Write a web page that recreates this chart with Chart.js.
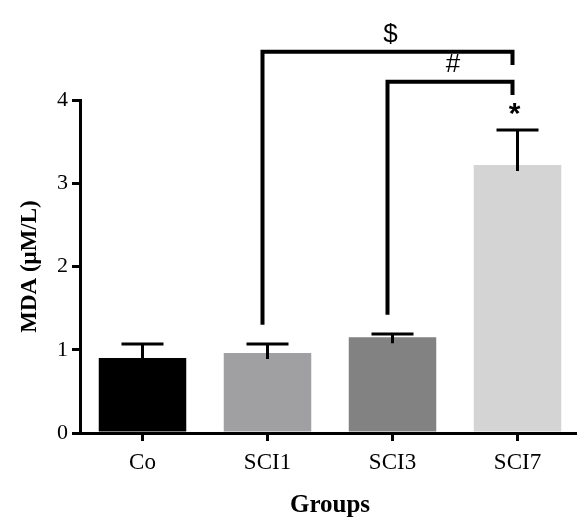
<!DOCTYPE html>
<html>
<head>
<meta charset="utf-8">
<script src="https://cdn.jsdelivr.net/npm/chart.js@4/dist/chart.umd.min.js"></script>
<style>
  html, body { margin: 0; padding: 0; background: #fff; overflow: hidden; }
  #wrap { width: 580px; height: 518px; }
</style>
</head>
<body>
<div id="wrap"><canvas id="barChart"></canvas></div>
<script>
const groups = ['Co', 'SCI1', 'SCI3', 'SCI7'];
const mdaMean = [0.90, 0.96, 1.15, 3.22];
const mdaError = [0.17, 0.11, 0.04, 0.42];
const barColors = ['#000000', '#a0a0a3', '#828282', '#d4d4d4'];
const yTicks = [0, 1, 2, 3, 4];

// significance brackets: from group -> to group, level, left leg bottom, right leg bottom
const brackets = [
  { mark: '$', from: 1, to: 3, level: 4.58, leftEnd: 1.30, rightEnd: 4.42 },
  { mark: '#', from: 2, to: 3, level: 4.22, leftEnd: 1.42, rightEnd: 4.06 }
];
const starMark = '*';

const serif = '"Liberation Serif", "Times New Roman", serif';
const ctx = document.getElementById('barChart').getContext('2d');

const extras = {
  id: 'extras',
  afterDatasetsDraw(chart) {
    const c = chart.ctx;
    const x = chart.scales.x;
    const y = chart.scales.y;
    c.save();
    c.strokeStyle = '#000';
    c.fillStyle = '#000';
    // error bars
    c.lineWidth = 3;
    mdaMean.forEach((v, i) => {
      const cx = x.getPixelForValue(i);
      const top = y.getPixelForValue(v + mdaError[i]);
      c.beginPath();
      c.moveTo(cx, y.getPixelForValue(v) + 6);
      c.lineTo(cx, top);
      c.moveTo(cx - 21, top);
      c.lineTo(cx + 21, top);
      c.stroke();
    });
    // brackets
    c.lineWidth = 4;
    c.font = '26px "Liberation Sans", Arial, sans-serif';
    c.textAlign = 'center';
    c.textBaseline = 'bottom';
    brackets.forEach(b => {
      const x1 = x.getPixelForValue(b.from) - 5;
      const x2 = x.getPixelForValue(b.to) - 5;
      const yl = y.getPixelForValue(b.level);
      c.beginPath();
      c.moveTo(x1, y.getPixelForValue(b.leftEnd));
      c.lineTo(x1, yl);
      c.lineTo(x2, yl);
      c.lineTo(x2, y.getPixelForValue(b.rightEnd));
      c.stroke();
      c.fillText(b.mark, (x1 + x2) / 2 + 3, yl - 4);
    });
    c.font = 'bold 30px "Liberation Sans", Arial, sans-serif';
    c.textBaseline = 'middle';
    const last = mdaMean.length - 1;
    c.fillText(starMark, x.getPixelForValue(last) - 3, y.getPixelForValue(mdaMean[last] + mdaError[last]) - 15);
    c.restore();
  }
};

new Chart(ctx, {
  type: 'bar',
  data: {
    labels: groups,
    datasets: [{
      label: 'MDA',
      data: mdaMean,
      backgroundColor: barColors,
      barPercentage: 0.7,
      categoryPercentage: 1.0
    }]
  },
  options: {
    responsive: true,
    maintainAspectRatio: false,
    animation: false,
    layout: { padding: { top: 100, right: 0, left: 0, bottom: 0 } },
    plugins: { legend: { display: false }, tooltip: { enabled: false } },
    scales: {
      x: {
        afterFit(scale) { scale.height = 85; },
        grid: { display: true, offset: false, drawOnChartArea: false, drawTicks: true, tickLength: 8, color: '#000', lineWidth: 3 },
        border: { display: true, color: '#000', width: 3 },
        ticks: { color: '#000', font: { family: serif, size: 23 }, padding: 8 },
        title: { display: true, text: 'Groups', color: '#000', padding: { top: 0, bottom: 0 },
          font: { family: serif, size: 25, weight: 'bold', lineHeight: 1.0 } }
      },
      y: {
        min: 0,
        max: 4,
        afterBuildTicks(scale) { scale.ticks = yTicks.map(v => ({ value: v })); },
        afterFit(scale) { scale.width = 80; },
        grid: { display: true, drawOnChartArea: false, drawTicks: true, tickLength: 8, color: '#000', lineWidth: 3 },
        border: { display: true, color: '#000', width: 3 },
        ticks: { color: '#000', font: { family: serif, size: 22 }, padding: 4 },
        title: { display: true, text: 'MDA (μM/L)', color: '#000', padding: { top: 16, bottom: 4 },
          font: { family: serif, size: 23, weight: 'bold' } }
      }
    }
  },
  plugins: [extras]
});
</script>
</body>
</html>
